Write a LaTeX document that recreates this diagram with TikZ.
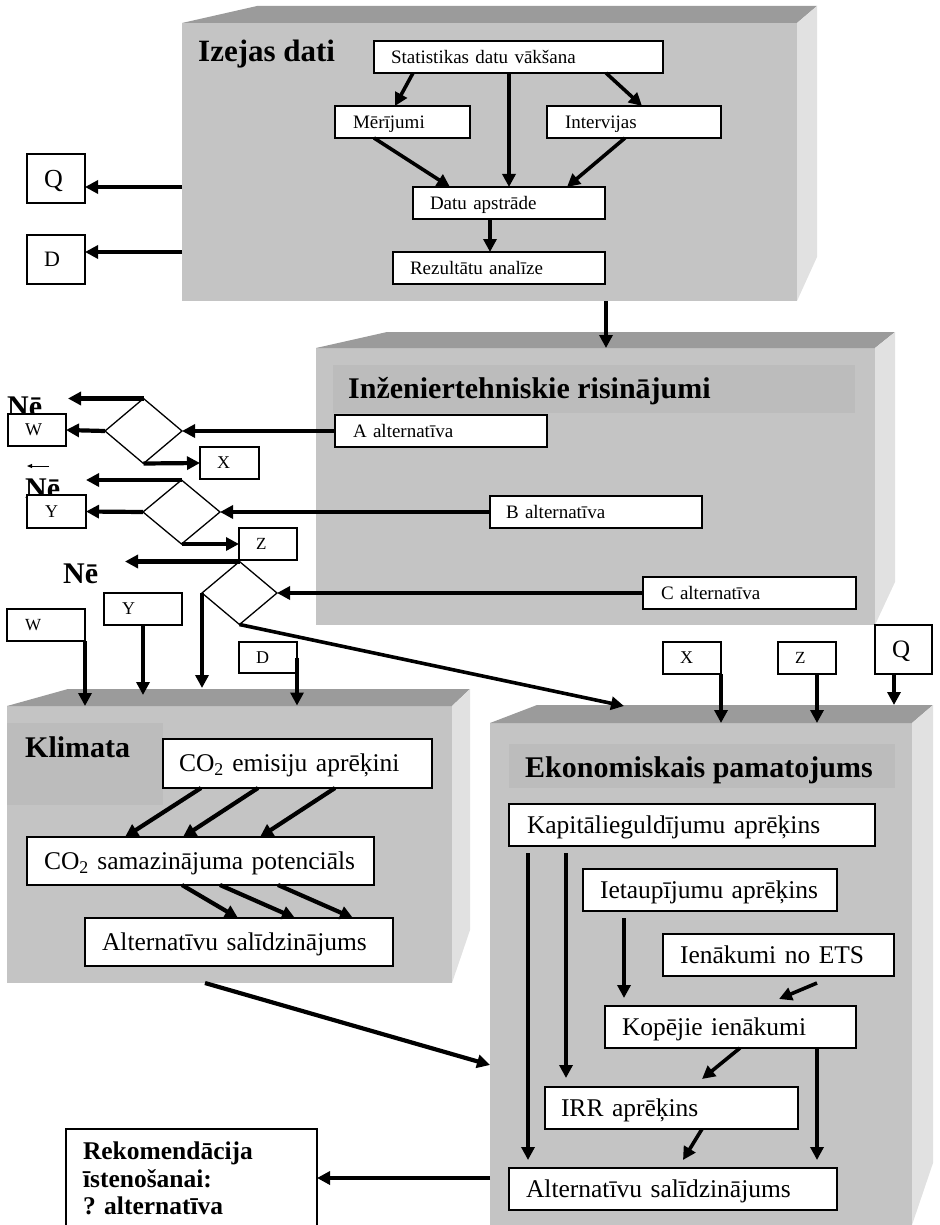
\documentclass[tikz,border=0pt]{standalone}
\usepackage{fontspec}
\setmainfont{Liberation Serif}
\usetikzlibrary{arrows.meta,shapes.geometric}
\definecolor{frontgray}{HTML}{C4C4C4}
\definecolor{topgray}{HTML}{9B9B9B}
\definecolor{sidegray}{HTML}{E1E1E1}
\definecolor{bandgray}{HTML}{BCBCBC}
\newcommand\fsz[1]{\fontsize{#1}{#1}\selectfont}
\begin{document}
\begin{tikzpicture}[x=1pt,y=-1pt,
  face/.style={fill=frontgray, draw=none, inner sep=0pt, outer sep=0pt, anchor=north west},
  bx/.style={draw=black, fill=white, line width=1.3pt, anchor=north west, inner ysep=0pt, align=left, outer sep=0pt},
  sm/.style={bx, font=\fsz{19}, text height=14.5pt, text depth=1.9pt, minimum height=32pt, inner xsep=17pt},
  md/.style={bx, font=\fsz{25.5}, text height=19.4pt, text depth=2.5pt, minimum height=42pt, inner xsep=17pt},
  lt/.style={bx, font=\fsz{18}, text height=13.7pt, text depth=1.8pt, minimum height=32pt, inner xsep=17pt, text width=24pt},
  title/.style={anchor=base west, inner sep=0pt, font=\fsz{30}\bfseries},
  ne/.style={anchor=base west, inner sep=0pt, font=\fsz{30}\bfseries},
  dia/.style={diamond, draw=black, fill=white, line width=1.3pt, inner sep=0pt, outer sep=0pt},
  arr/.style={line width=4.2pt, -{Triangle[length=13pt,width=13pt]}},
  arrs/.style={line width=3.6pt, -{Triangle[length=13pt,width=13pt]}},
  thinarr/.style={line width=1pt, -{Triangle[length=5pt,width=4pt]}}
]
\useasboundingbox (0,0) rectangle (939,1225);
\clip (0,0) rectangle (939,1225);

% ---------- slabs ----------
\node[face, minimum width=615pt, minimum height=278pt] (izej) at (182,23) {};
\fill[topgray] (izej.north west) -- (257,6) -- (817,6) -- (izej.north east) -- cycle;
\fill[sidegray] (izej.north east) -- (817,6) -- (817,257) -- (izej.south east) -- cycle;

\node[face, minimum width=559pt, minimum height=277pt] (inz) at (316,348) {};
\fill[topgray] (inz.north west) -- (387,332) -- (895,332) -- (inz.north east) -- cycle;
\fill[sidegray] (inz.north east) -- (895,332) -- (895,582) -- (inz.south east) -- cycle;
\fill[bandgray] (333,365) rectangle (855,413);

\node[face, minimum width=445pt, minimum height=277pt] (klim) at (7,706) {};
\fill[topgray] (klim.north west) -- (68,689) -- (470,689) -- (klim.north east) -- cycle;
\fill[sidegray] (klim.north east) -- (470,689) -- (470,930) -- (klim.south east) -- cycle;
\fill[bandgray] (7,723) rectangle (163,805);

\node[face, minimum width=422pt, minimum height=517pt] (ekon) at (490,723) {};
\fill[topgray] (ekon.north west) -- (537,705) -- (933,705) -- (ekon.north east) -- cycle;
\fill[sidegray] (ekon.north east) -- (933,705) -- (933,1163) -- (912,1225) -- (ekon.south east) -- cycle;
\fill[bandgray] (509,744) rectangle (895,788);

% ---------- titles ----------
\node[title, font=\fsz{31}\bfseries] (t1) at (198,62) {Izejas dati};
\node[title] (t2) at (348,398) {Inženiertehniskie risinājumi};
\node[title] (t3) at (25,757) {Klimata};
\node[title] (t4) at (525,777) {Ekonomiskais pamatojums};

% ---------- Izejas dati ----------
\node[sm, text width=255pt] (stat) at (374,41) {Statistikas datu vākšana};
\node[sm, text width=99pt, inner xsep=18pt] (mer) at (335,106) {Mērījumi};
\node[sm, text width=138pt, inner xsep=18pt] (int) at (547,106) {Intervijas};
\node[sm, text width=158pt] (datu) at (413,187) {Datu apstrāde};
\node[sm, text width=178pt] (rez) at (393,252) {Rezultātu analīze};
\node[lt, font=\fsz{26}, text height=19.8pt, text depth=2.6pt, minimum height=49pt] (Q1) at (27,154) {Q};
\node[lt, font=\fsz{22}, text height=16.7pt, text depth=2.2pt, minimum height=49pt] (D1) at (27,235) {D};

% ---------- Inzeniertehniskie ----------
\node[sm, text width=176pt, inner xsep=18pt] (A) at (335,415) {A alternatīva};
\node[sm, text width=180pt, inner xsep=16pt] (B) at (490,496) {B alternatīva};
\node[sm, text width=177pt, inner xsep=18pt] (C) at (643,577) {C alternatīva};

\node[dia, minimum width=77pt, minimum height=65pt] (d1) at (143.5,431) {};
\node[dia, minimum width=77pt, minimum height=64pt] (d2) at (181.5,512) {};
\node[dia, minimum width=75pt, minimum height=63pt] (d3) at (239.5,593) {};

\node[ne] (ne1t) at (7,416) {Nē};
\node[ne] (ne2t) at (25,498) {Nē};
\node[ne] (ne3t) at (63,583) {Nē};

\node[lt] (W1) at (8,414) {W};
\node[lt, text width=25pt] (X1) at (200,447) {X};
\node[lt, text width=23pt, inner xsep=18pt, minimum height=33pt] (Y1) at (27,495) {Y};
\node[lt, font=\fsz{17}] (Z1) at (239,528) {Z};

\coordinate (ne1) at (68,398.5);
\coordinate (ne2) at (86,480);
\coordinate (ne3) at (125,561.5);
\coordinate (sa1) at (49,466);
\coordinate (sa2) at (27,466);

% ---------- Klimata ----------
\node[lt, font=\fsz{17}, text width=42pt, inner xsep=18pt] (W2) at (7,609) {W};
\node[lt, text width=42pt, inner xsep=18pt] (Y2) at (104,593) {Y};
\node[lt, minimum height=31pt] (D2) at (239,642) {D};

\node[md, text width=237pt, inner xsep=16pt, minimum height=49pt] (co2e) at (163,739) {CO\textsubscript{2} emisiju aprēķini};
\node[md, text width=313pt, minimum height=48pt] (co2s) at (27,837) {CO\textsubscript{2} samazinājuma potenciāls};
\node[md, text width=274pt, minimum height=48pt] (altk) at (85,918) {Alternatīvu salīdzinājums};

% ---------- Ekonomiskais ----------
\node[lt] (X2) at (663,642) {X};
\node[lt, font=\fsz{17}] (Z2) at (778,642) {Z};
\node[lt, font=\fsz{25}, text height=19pt, text depth=2.5pt, minimum height=49pt, text width=23pt] (Q2) at (875,625) {Q};

\node[md, text width=330pt, inner xsep=18pt] (kap) at (509,804) {Kapitālieguldījumu aprēķins};
\node[md, text width=220pt] (iet) at (583,869) {Ietaupījumu aprēķins};
\node[md, text width=197pt] (ets) at (663,934) {Ienākumi no ETS};
\node[md, text width=217pt] (kop) at (605,1006) {Kopējie ienākumi};
\node[md, text width=221pt, inner xsep=16pt] (irr) at (545,1087) {IRR aprēķins};
\node[md, text width=294pt] (alte) at (509,1168) {Alternatīvu salīdzinājums};

\node[bx, text width=217pt, inner xsep=17pt, inner ysep=13pt, font=\fontsize{25.5}{27.5}\selectfont\bfseries] (rek) at (66,1129)
  {Rekomendācija\\ īstenošanai:\\ ?\ alternatīva};

% ---------- connectors: Izejas dati ----------
\draw[arrs] ([xshift=39pt]stat.south west) -- ([xshift=60pt]mer.north west);
\draw[arrs] ([xshift=135pt]stat.south west) -- ([xshift=96pt]datu.north west);
\draw[arrs] ([xshift=232pt]stat.south west) -- ([xshift=95pt]int.north west);
\draw[arrs] ([xshift=39pt]mer.south west) -- ([xshift=37pt]datu.north west);
\draw[arrs] ([xshift=78pt]int.south west) -- ([xshift=154pt]datu.north west);
\draw[arrs] ([xshift=77pt]datu.south west) -- ([xshift=97pt]rez.north west);
\draw[arr] ([yshift=-164pt]izej.north west) -- ([yshift=-8.5pt]Q1.east);
\draw[arr] ([yshift=-229pt]izej.north west) -- ([yshift=7.5pt]D1.east);
\draw[arrs] ([xshift=424pt]izej.south west) -- ([xshift=290pt]inz.north west);

% ---------- connectors: alternatives ----------
\draw[arr] (A.west) -- (d1.east);
\draw[arr] (d1.west) -- (W1.east);
\draw[arr] (d1.north) -- (ne1);
\draw[arr] (d1.south) -- (X1.west);
\draw[arr] (B.west) -- (d2.east);
\draw[arr] (d2.west) -- (Y1.east);
\draw[arr] (d2.north) -- (ne2);
\draw[arr] (d2.south) -- (Z1.west);
\draw[thinarr] (sa1) -- (sa2);
\draw[arr] (C.west) -- (d3.east);
\draw[arr] (d3.north) -- (ne3);
\draw[arr] (d3.west) -- ++(0,95);
\draw[arrs] (d3.south) -- ([xshift=134pt,yshift=17pt]ekon.north west);

% ---------- connectors: Klimata ----------
\draw[arr] (W2.south east) -- ([xshift=78pt]klim.north west);
\draw[arr] (Y2.south) -- ([xshift=136pt,yshift=11pt]klim.north west);
\draw[arr] (D2.east) -- ++(0,48);
\draw[arr] ([xshift=38pt]co2e.south west) -- ([xshift=98pt]co2s.north west);
\draw[arr] ([xshift=95pt]co2e.south west) -- ([xshift=156pt]co2s.north west);
\draw[arr] ([xshift=172pt]co2e.south west) -- ([xshift=233pt]co2s.north west);
\draw[arr] ([xshift=155pt]co2s.south west) -- ([xshift=153pt]altk.north west);
\draw[arr] ([xshift=193pt]co2s.south west) -- ([xshift=210pt]altk.north west);
\draw[arr] ([xshift=251pt]co2s.south west) -- ([xshift=268pt]altk.north west);
\draw[arr] ([xshift=198pt]klim.south west) -- ([yshift=-342pt]ekon.north west);

% ---------- connectors: Ekonomiskais ----------
\draw[arr] (X2.south east) -- ([xshift=231pt]ekon.north west);
\draw[arr] ([xshift=10pt]Z2.south) -- ([xshift=327pt]ekon.north west);
\draw[arr] ([xshift=-9.5pt]Q2.south) -- ([xshift=404pt,yshift=18pt]ekon.north west);
\draw[arr] ([xshift=19pt,yshift=-7pt]kap.south west) -- ([xshift=19pt,yshift=8pt]alte.north west);
\draw[arr] ([xshift=57pt,yshift=-7pt]kap.south west) -- ([xshift=21pt,yshift=9pt]irr.north west);
\draw[arr] ([xshift=41pt,yshift=-7pt]iet.south west) -- ([xshift=19pt,yshift=8pt]kop.north west);
\draw[arrs] ([xshift=154pt,yshift=-7pt]ets.south west) -- ([xshift=174pt,yshift=7pt]kop.north west);
\draw[arrs] ([xshift=135pt]kop.south west) -- ([xshift=157pt,yshift=8pt]irr.north west);
\draw[arr] ([xshift=212pt]kop.south west) -- ([xshift=308pt,yshift=8pt]alte.north west);
\draw[arrs] ([xshift=157pt]irr.south west) -- ([xshift=174pt,yshift=8pt]alte.north west);
\draw[arr] ([yshift=-455pt]ekon.north west) -- ([yshift=-49pt]rek.north east);
\end{tikzpicture}
\end{document}
